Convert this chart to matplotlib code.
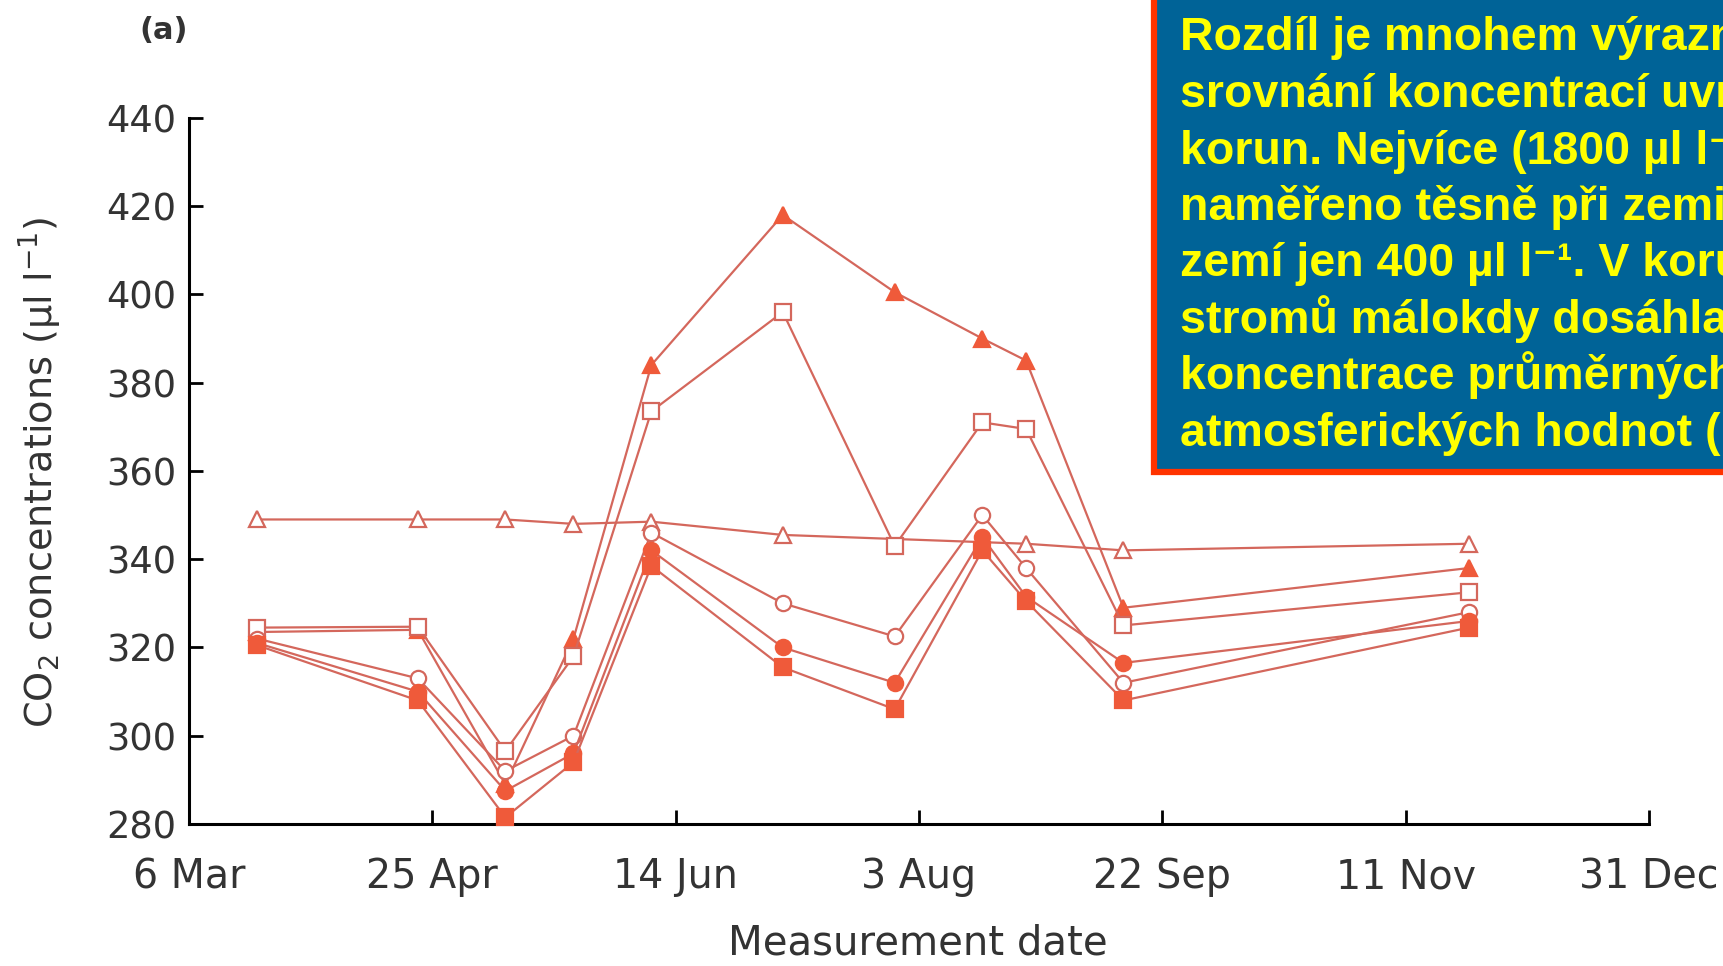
import matplotlib
matplotlib.use('Agg')
import matplotlib.pyplot as plt
from matplotlib.patches import Rectangle

# dny od 6. brezna (6 Mar = 0)
days = [14, 47, 65, 79, 95, 122, 145, 163, 172, 192, 263]
days_open_tri = [14, 47, 65, 79, 95, 122, 172, 192, 263]

# CO2 (ul/l)
open_tri = [349, 349, 349, 348, 348.5, 345.5, 343.5, 342, 343.5]
filled_tri = [323.5, 324, 289, 322, 384, 418, 400.5, 390, 385, 329, 338]
open_sq = [324.5, 324.7, 296.5, 318, 373.5, 396, 343, 371, 369.5, 325, 332.5]
open_circ = [322, 313, 292, 300, 346, 330, 322.5, 350, 338, 312, 328]
filled_circ = [321, 310, 287.5, 296, 342, 320, 312, 345, 331.5, 316.5, 326]
filled_sq = [320.5, 308, 281.5, 294, 338.5, 315.5, 306, 342, 330.5, 308, 324.5]

tick_days = [0, 50, 100, 150, 200, 250, 300]
tick_labels = ['6 Mar', '25 Apr', '14 Jun', '3 Aug', '22 Sep', '11 Nov', '31 Dec']
y_ticks = [280, 300, 320, 340, 360, 380, 400, 420, 440]

box_lines = [
    'Rozdíl je mnohem výrazně',
    'srovnání koncentrací uvnitř',
    'korun. Nejvíce (1800 µl l⁻¹)',
    'naměřeno těsně při zemi',
    'zemí jen 400 µl l⁻¹. V korunách',
    'stromů málokdy dosáhla',
    'koncentrace průměrných',
    'atmosferických hodnot (',
]

line_col = '#d4675c'
fill_col = '#ef5a3a'
text_col = '#333333'

fig = plt.figure(figsize=(17.23, 9.66), dpi=100)
ax = fig.add_axes([0.1097, 0.147, 0.8474, 0.731])

def series(x, y, marker, filled):
    ax.plot(x, y, color=line_col, lw=1.6, marker=marker, ms=11,
            mfc=fill_col if filled else 'white', mec=line_col if not filled else fill_col,
            mew=1.6, clip_on=False, zorder=3)

series(days_open_tri, open_tri, '^', False)
series(days, filled_tri, '^', True)
series(days, open_sq, 's', False)
series(days, open_circ, 'o', False)
series(days, filled_circ, 'o', True)
series(days, filled_sq, 's', True)

ax.set_xlim(0, 300)
ax.set_ylim(280, 440)
ax.set_xticks(tick_days)
ax.set_xticklabels(tick_labels)
ax.set_yticks(y_ticks)
ax.spines['top'].set_visible(False)
ax.spines['right'].set_visible(False)
ax.spines['left'].set_linewidth(2.2)
ax.spines['bottom'].set_linewidth(2.2)
ax.tick_params(axis='both', direction='in', length=10, width=2,
               labelcolor=text_col)
ax.tick_params(axis='x', pad=24, labelsize=28.5)
ax.tick_params(axis='y', pad=9, labelsize=26.5)

fig.text(0.023, 0.511, 'CO$_2$ concentrations (µl l$^{-1}$)', rotation=90,
         ha='center', va='center', fontsize=27.5, color=text_col)
fig.text(0.5326, 0.012, 'Measurement date', ha='center', va='baseline',
         fontsize=29, color=text_col)
fig.text(0.095, 0.968, '(a)', ha='center', va='center', fontsize=22,
         color=text_col, fontweight='bold')

# modry box s textem
box = Rectangle((0.6698, 0.5114), 0.4, 0.6, transform=fig.transFigure,
                facecolor='#006397', edgecolor='#ff3300', linewidth=4.5, zorder=5)
fig.add_artist(box)
for i, s in enumerate(box_lines):
    y = 1 - (50.5 + i * 56.5) / 966
    fig.text(0.6848, y, s, ha='left', va='baseline', fontsize=33.5,
             fontweight='bold', color='#ffff00',
             family=['Liberation Sans', 'DejaVu Sans'], zorder=6)

fig.savefig('out.png', dpi=100)
